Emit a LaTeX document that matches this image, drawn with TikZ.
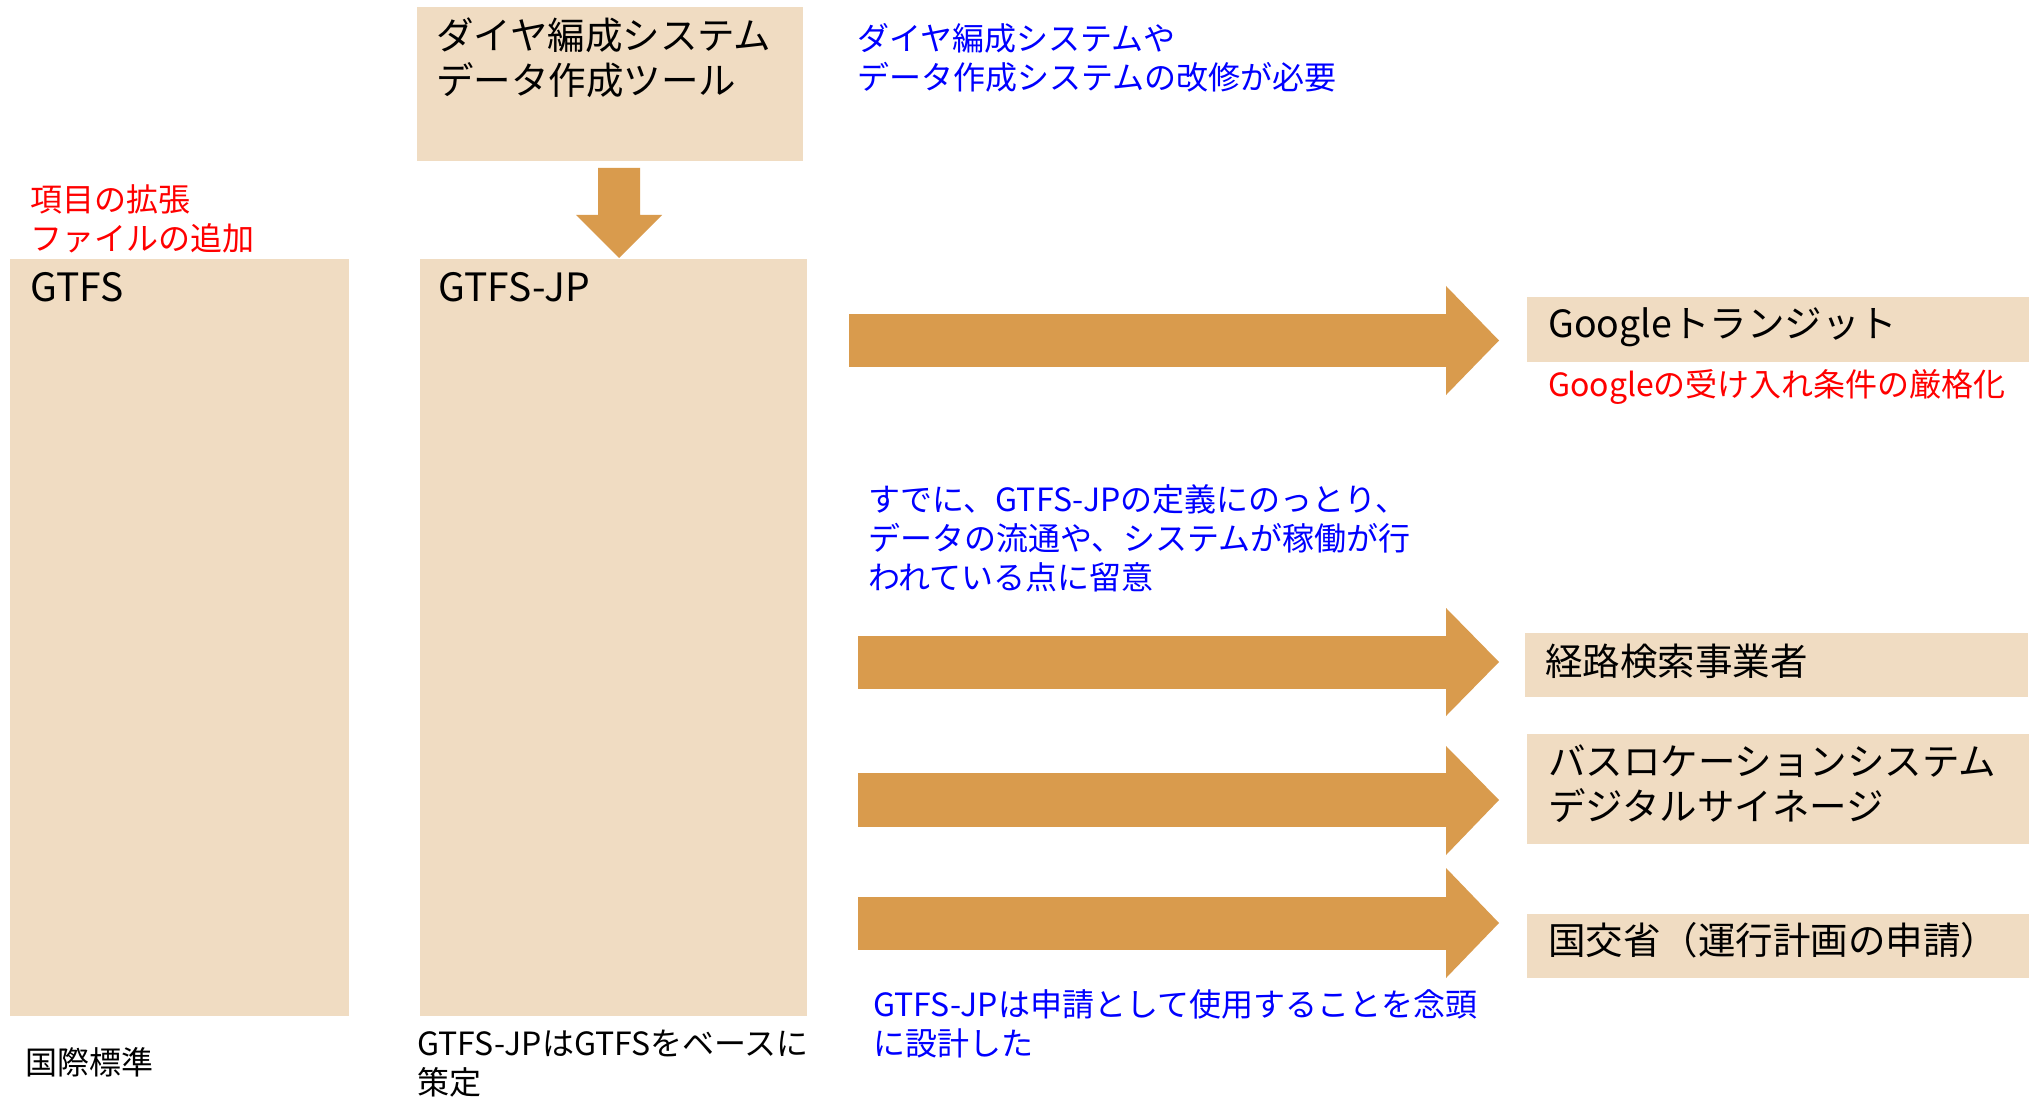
\documentclass[tikz,border=0pt]{standalone}
\usepackage{fontspec}
\setmainfont{Noto Sans CJK JP}
\begin{document}
\begin{tikzpicture}[x=1pt,y=-1pt,
  box/.style={fill=boxfill,draw=none},
  blk/.style={inner sep=0pt,anchor=west,align=left,text=black,font=\fontsize{37.5}{45}\selectfont},
  note/.style={inner sep=0pt,anchor=west,align=left,font=\fontsize{32}{39}\selectfont},
  bluenote/.style={note,text=noteblue},
  rednote/.style={note,text=notered},
  blockarrow/.style={fill=arrowfill,draw=none}]
\definecolor{boxfill}{RGB}{240,220,194}
\definecolor{arrowfill}{RGB}{217,155,77}
\definecolor{noteblue}{RGB}{0,0,255}
\definecolor{notered}{RGB}{255,0,0}
\useasboundingbox[fill=white] (0,0) rectangle (2042,1099);

% boxes
\fill[box] (417,7) rectangle (803,161);
\coordinate (toolS) at (619,168);
\fill[box] (10,259) rectangle (349,1016);
\fill[box] (420,259) rectangle (807,1016);
\fill[box] (1527,297) rectangle (2029,362);
\fill[box] (1525,633) rectangle (2028,697);
\fill[box] (1527,734) rectangle (2029,844);
\fill[box] (1527,914) rectangle (2029,978);

% box texts
\node[blk] (tool) at (436,57.5) {ダイヤ編成システム\\データ作成ツール};
\node[blk,font=\fontsize{39}{45}\selectfont] (gtfs) at (30,287) {GTFS};
\node[blk,font=\fontsize{39}{45}\selectfont] (gtfsjp) at (438,287) {GTFS-JP};
\node[blk] (google) at (1548,327) {Googleトランジット};
\node[blk] (route) at (1545,661) {経路検索事業者};
\node[blk] (bus) at (1548,784) {バスロケーションシステム\\デジタルサイネージ};
\node[blk] (mlit) at (1548,940) {国交省（運行計画の申請）};

% notes
\node[bluenote] (n1) at (857,58) {ダイヤ編成システムや\\データ作成システムの改修が必要};
\node[rednote] (n2) at (30,219) {項目の拡張\\ファイルの追加};
\node[rednote] (n3) at (1548,387) {Googleの受け入れ条件の厳格化};
\node[bluenote] (n4) at (868,538) {すでに、GTFS-JPの定義にのっとり、\\データの流通や、システムが稼働が行\\われている点に留意};
\node[bluenote] (n5) at (873,1023.5) {GTFS-JPは申請として使用することを念頭\\に設計した};
\node[note,text=black] (n6) at (25,1062) {国際標準};
\node[note,text=black] (n7) at (417,1064) {GTFS-JPはGTFSをベースに\\策定};

% down arrow
\fill[blockarrow] (toolS) ++(-21,0) -- ++(42,0) -- ++(0,47) -- ++(22,0) -- (619,258) -- (576,215) -- (598,215) -- cycle;

% horizontal arrows
\fill[blockarrow] (849,314) rectangle (1447,367);
\fill[blockarrow] (1446,286) -- (1499,340.5) -- (1446,395) -- cycle;
\fill[blockarrow] (858,636) rectangle (1447,689);
\fill[blockarrow] (1446,608) -- (1499,662) -- (1446,716) -- cycle;
\fill[blockarrow] (858,773) rectangle (1447,827);
\fill[blockarrow] (1446,746) -- (1499,800) -- (1446,855) -- cycle;
\fill[blockarrow] (858,897) rectangle (1447,950);
\fill[blockarrow] (1446,868) -- (1499,923) -- (1446,978) -- cycle;
\end{tikzpicture}
\end{document}
